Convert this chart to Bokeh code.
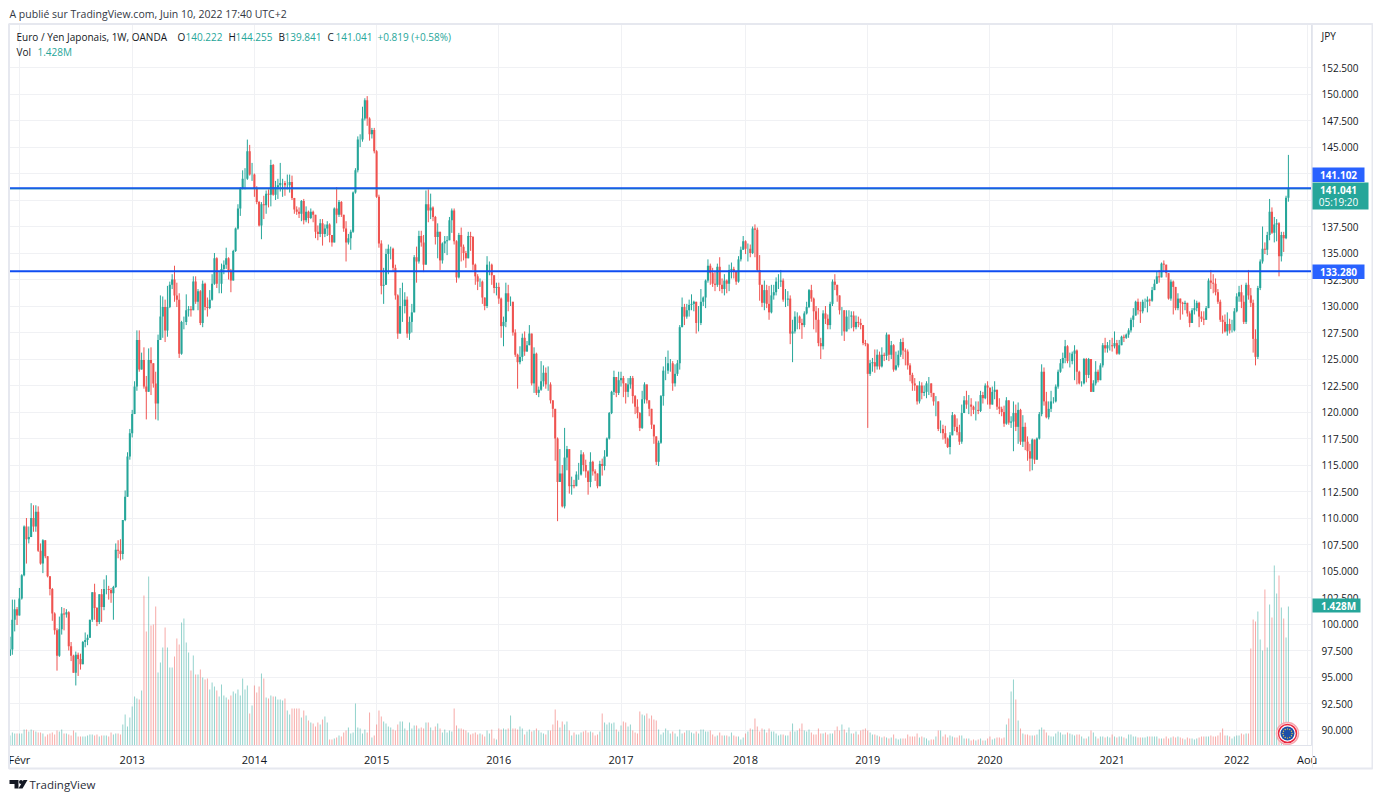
import math
from bokeh.plotting import figure
from bokeh.core.properties import value
from bokeh.models import ColumnDataSource, Range1d, FixedTicker
from bokeh.embed import file_html
from bokeh.resources import INLINE

# ---------- DATA (EUR/JPY weekly) ----------
closes = [
97.6,100.4,101.4,100.8,102.4,104.6,109.2,108.0,108.2,110.0,
109.2,110.6,106.9,105.7,107.9,106.4,104.5,103.3,101.0,99.4,
97.0,99.5,101.0,100.9,101.1,97.9,97.0,95.4,97.1,96.7,
96.2,98.3,98.5,98.7,100.4,103.0,101.5,100.2,102.8,101.6,
103.3,103.3,103.2,102.9,103.5,107.0,106.9,106.6,109.8,112.0,
115.8,118.0,119.8,122.4,126.8,124.0,124.9,122.4,121.9,124.9,
124.6,122.7,120.8,126.8,129.0,129.9,127.7,129.9,132.0,132.5,
131.0,130.6,125.5,128.5,128.5,129.6,129.7,129.6,132.3,130.4,
131.4,128.4,132.1,129.9,129.8,130.6,132.1,134.5,132.1,132.1,
133.5,133.9,134.5,133.2,132.4,135.2,137.3,139.2,141.1,142.0,
142.0,144.6,142.4,142.4,141.1,139.8,137.6,139.6,139.5,140.6,
140.5,143.3,140.5,141.2,141.4,141.6,141.6,141.4,141.4,141.7,
140.2,139.1,138.9,138.7,139.9,138.1,138.9,138.3,138.9,138.6,
137.0,136.8,137.8,136.8,137.3,137.7,136.7,136.0,139.2,138.6,
139.8,138.6,137.3,136.0,136.4,137.0,140.7,142.8,145.7,145.7,
147.7,149.4,147.7,146.2,146.6,144.6,140.3,135.9,131.9,132.0,
134.9,135.4,135.4,133.6,131.0,127.4,130.0,130.0,130.6,127.4,
128.5,129.4,134.6,134.2,136.6,136.0,133.9,139.6,139.0,139.3,
138.4,136.5,137.0,134.3,135.9,136.1,136.2,138.1,139.0,136.1,
132.7,136.7,135.6,135.0,134.5,136.6,136.5,133.9,132.8,132.3,
132.3,130.8,130.0,133.9,133.9,132.9,131.7,131.8,130.7,128.1,
128.5,131.2,130.4,130.4,127.5,125.4,124.7,125.2,127.0,125.7,
126.3,127.4,122.7,125.5,121.8,122.1,122.9,123.7,122.6,122.6,
121.1,120.3,117.5,113.4,114.2,111.1,115.7,116.5,113.0,113.1,
113.0,114.1,114.1,116.0,115.0,114.4,113.4,115.3,114.4,114.2,
113.0,115.1,114.9,115.8,117.5,119.9,121.9,123.3,121.8,123.0,
123.2,122.7,121.9,122.6,123.2,121.5,120.5,119.9,118.5,121.2,
122.6,121.1,120.3,118.8,117.7,115.3,117.1,121.5,123.9,123.9,
124.6,124.6,122.7,123.6,124.6,128.0,129.9,129.0,129.6,130.1,
130.2,130.4,128.4,128.4,130.4,130.8,132.4,133.8,133.1,132.1,
132.0,133.7,132.0,131.6,132.4,132.1,133.4,133.5,133.3,132.3,
134.4,135.3,136.1,135.4,135.4,135.0,137.3,137.2,133.4,132.0,
130.3,131.5,130.2,129.4,131.0,131.3,132.3,132.3,132.4,130.6,
130.6,130.7,127.4,127.6,129.0,129.0,128.4,128.2,129.3,129.9,
131.5,130.7,129.5,128.7,126.5,126.2,129.3,128.8,128.2,130.2,
132.3,132.0,131.0,129.6,129.6,127.6,129.0,129.0,129.1,128.0,
128.5,128.4,128.2,126.5,126.4,123.6,124.6,124.7,124.3,125.4,
124.3,125.4,125.3,127.3,125.4,126.3,124.0,124.4,125.4,126.6,
125.8,125.7,124.4,123.5,122.7,122.5,121.0,122.5,121.8,121.9,
122.7,122.7,121.8,121.0,121.0,118.4,118.4,118.0,117.5,116.7,
117.8,119.7,118.6,118.1,117.2,119.9,121.1,120.7,120.7,120.5,
120.2,120.2,120.1,121.6,121.3,122.5,122.3,120.7,121.9,122.1,
120.5,120.3,120.0,118.9,121.1,119.0,119.1,119.9,118.6,120.2,
117.2,118.6,117.2,116.3,115.6,117.4,115.5,117.5,119.8,123.8,
121.0,119.5,120.3,121.0,121.0,122.4,123.8,124.6,125.1,126.2,
124.8,124.8,125.5,125.8,123.8,122.7,122.7,125.0,123.5,125.0,
121.9,122.7,123.8,123.0,124.4,126.3,126.0,126.3,126.3,126.2,
126.5,125.5,126.3,127.1,127.0,127.3,127.7,128.7,129.1,130.4,
129.6,129.5,130.4,130.4,130.6,130.5,131.5,132.1,132.8,132.7,
134.0,133.9,133.1,130.7,132.3,131.8,129.8,130.7,130.3,130.2,
130.3,129.3,128.4,129.6,129.8,130.3,129.0,128.8,128.7,129.8,
132.4,132.2,132.1,131.3,130.4,128.7,128.5,127.6,128.3,127.7,
127.7,129.5,130.9,131.3,130.4,128.5,132.0,131.0,130.3,126.9,
125.2,131.7,134.2,135.4,135.3,136.7,138.9,136.9,137.7,137.8,
134.7,136.7,136.4,140.222,141.041]

highs = [
98.8,102.3,102.3,101.6,103.4,104.7,109.3,110.0,109.2,111.4,
111.2,111.2,111.1,107.6,108.0,107.9,106.4,104.5,103.4,101.1,
99.6,100.7,101.6,101.5,101.4,101.2,98.3,97.1,97.4,97.3,
97.2,98.4,99.2,99.0,100.4,103.0,103.8,101.6,102.8,103.3,
104.2,104.6,103.6,103.4,103.6,107.6,107.9,108.0,109.8,112.6,
116.2,118.4,120.2,122.9,127.7,127.7,125.6,126.1,123.4,126.0,
126.1,124.6,123.8,127.3,131.0,130.9,130.6,131.9,132.3,133.0,
133.8,132.2,131.2,128.6,129.0,131.1,130.0,130.0,132.8,132.8,
131.6,131.5,132.4,132.2,130.8,131.5,133.0,135.0,134.6,133.2,
134.0,134.3,135.5,134.6,133.5,135.3,137.4,139.6,141.2,142.8,
143.0,145.7,145.2,143.5,142.5,141.3,139.9,139.8,140.4,140.9,
141.0,143.8,143.4,141.8,142.0,143.5,142.0,141.8,142.4,142.4,
142.3,140.2,139.4,139.3,140.0,140.1,139.4,139.0,139.2,139.0,
138.6,137.6,138.2,138.2,137.7,138.0,137.8,136.7,139.3,141.2,
140.0,139.9,138.4,138.0,136.8,137.2,140.8,143.0,146.0,146.2,
148.8,149.6,149.8,147.8,146.8,146.8,144.7,140.5,136.2,133.6,
135.4,135.8,135.6,135.5,133.9,131.1,131.7,132.2,131.3,130.9,
129.0,130.2,134.8,135.6,137.1,137.1,136.7,140.9,141.0,140.6,
139.4,138.5,137.8,136.9,136.0,136.6,136.6,138.4,139.2,139.2,
136.2,136.9,137.4,135.8,135.2,137.0,137.0,136.6,134.0,133.0,
132.6,132.4,130.8,134.7,134.2,134.0,132.0,132.2,132.2,130.8,
129.0,132.2,132.0,130.9,129.2,127.8,125.5,126.2,127.4,127.6,
126.7,128.2,127.4,126.1,125.6,122.4,124.8,124.4,124.2,124.3,
122.8,121.0,118.0,117.6,116.5,115.0,118.5,116.8,114.6,113.9,
113.6,114.4,115.2,116.4,116.2,115.5,114.5,116.2,115.4,114.6,
113.4,115.4,115.6,116.4,117.6,120.0,122.0,123.9,123.2,123.8,
123.8,123.4,122.2,123.2,123.4,123.4,121.6,121.2,120.0,122.0,
122.8,122.2,120.5,119.2,117.9,116.0,117.3,121.6,124.3,125.2,
125.8,125.0,124.8,124.5,124.9,128.2,130.8,130.2,130.2,130.6,
131.1,130.5,130.3,130.0,131.6,130.9,132.5,134.4,134.0,133.6,
133.2,134.0,134.6,132.6,133.0,132.5,133.9,134.1,133.7,133.2,
134.7,135.6,136.6,136.2,135.9,135.8,137.5,137.7,137.4,134.8,
132.0,132.4,132.0,131.9,132.0,132.0,132.7,133.0,133.4,132.6,
131.6,131.4,131.0,128.7,129.5,129.4,129.1,128.8,129.5,130.4,
131.6,132.0,130.8,130.0,129.8,127.0,129.6,130.0,129.2,130.4,
132.5,133.0,132.0,130.9,129.9,129.0,129.6,129.6,129.5,129.5,
129.1,129.0,128.8,128.2,126.8,126.5,124.9,125.1,125.9,125.9,
125.7,126.1,125.6,127.5,127.2,126.7,126.4,125.7,125.8,126.9,
127.0,126.0,125.9,124.6,123.7,123.2,122.0,122.9,122.8,122.5,
122.9,123.3,122.4,121.8,121.5,121.0,119.2,118.8,118.7,117.6,
118.1,120.0,119.8,119.4,118.8,120.7,121.5,122.0,121.6,121.3,
120.6,121.0,121.0,122.0,121.9,122.7,122.9,122.3,122.4,122.9,
122.0,121.3,120.5,120.6,121.4,121.1,119.6,121.0,120.7,120.9,
120.3,119.7,119.0,117.7,117.0,117.5,116.2,117.6,120.0,124.5,
124.2,121.9,121.0,122.0,121.4,122.6,124.0,125.0,125.6,126.8,
126.3,125.6,125.7,126.3,125.9,123.9,122.9,125.1,125.1,125.1,
125.0,123.0,124.8,124.0,124.6,126.5,127.0,126.6,126.8,127.0,
127.6,126.8,126.8,127.2,127.3,127.4,127.9,128.9,129.8,130.5,
130.7,130.4,130.6,130.7,130.9,130.7,131.8,132.5,133.3,133.4,
134.1,134.3,133.5,132.6,132.5,132.4,131.4,131.2,130.6,130.4,
130.5,130.2,129.5,129.8,130.6,130.5,130.4,129.5,129.5,130.0,
132.6,133.4,133.0,132.6,131.6,130.6,129.1,129.2,129.4,128.8,
128.7,129.8,131.2,131.9,132.0,131.0,132.2,133.4,131.7,130.6,
127.8,131.9,134.4,137.5,136.0,137.0,140.1,139.3,138.4,138.2,
137.9,137.0,137.0,140.4,144.255]

lows = [
97.2,97.1,99.3,99.9,100.9,102.3,104.5,105.7,107.6,108.2,
108.7,108.7,106.8,105.6,104.8,106.2,104.4,102.7,100.3,99.0,
95.6,96.9,99.0,99.4,100.6,97.5,96.5,95.4,94.2,95.1,
95.7,96.2,97.8,98.0,98.7,100.2,100.4,99.8,100.0,100.2,
101.3,102.8,102.3,102.0,100.4,103.4,106.2,106.0,106.1,109.7,
112.0,115.5,117.6,119.9,122.0,123.8,124.0,122.2,119.3,122.0,
121.6,122.3,119.3,119.2,126.8,127.0,126.6,127.1,129.8,131.6,
130.4,129.9,125.1,125.4,127.8,128.2,129.0,129.0,129.6,130.2,
129.6,128.2,128.0,129.6,129.0,129.7,130.5,132.0,131.7,131.2,
131.2,133.0,133.5,132.5,131.3,132.4,135.1,137.2,138.5,141.0,
141.0,141.9,142.3,141.8,140.3,139.6,137.5,136.3,138.2,138.7,
139.3,139.4,140.4,140.0,140.1,140.8,140.3,140.4,141.0,140.7,
140.0,138.7,138.6,138.3,138.0,137.7,137.9,137.8,138.2,137.9,
136.4,136.2,136.5,135.7,136.5,136.6,136.0,135.6,136.0,137.8,
138.4,138.4,137.0,134.2,135.8,135.3,136.9,140.6,142.6,145.0,
145.5,147.5,147.0,145.6,145.8,144.4,140.2,135.5,131.1,130.2,
132.0,133.0,134.4,133.3,130.6,126.9,127.5,128.5,129.3,127.0,
126.8,127.5,129.4,132.2,134.0,135.6,133.2,133.9,137.9,138.2,
138.0,135.8,134.5,133.4,134.0,135.0,134.8,136.2,136.9,135.8,
132.2,132.6,134.2,134.3,133.6,134.6,135.2,133.4,132.0,131.5,
131.8,130.2,129.6,129.8,132.9,132.0,131.2,131.0,130.2,127.0,
126.2,128.0,129.5,130.0,127.2,125.2,122.2,124.5,124.8,125.3,
125.8,126.6,122.5,121.8,121.6,121.4,122.0,122.4,122.2,122.0,
120.8,119.5,115.4,109.7,113.4,111.0,110.9,114.5,112.3,112.2,
112.8,113.0,113.6,114.0,114.4,113.8,112.2,112.9,114.0,113.5,
112.8,113.0,114.0,114.5,115.8,117.4,119.8,121.6,121.4,121.6,
122.4,121.4,120.8,121.4,122.2,120.8,119.8,119.4,118.2,118.4,
120.8,120.8,119.6,118.4,117.0,115.0,114.9,117.0,120.6,123.0,
123.6,123.8,122.0,122.4,123.4,124.0,128.0,128.2,128.8,129.0,
129.6,129.5,127.4,127.6,128.2,130.0,129.8,132.2,132.0,131.8,
131.4,131.8,131.4,131.2,131.0,131.2,131.4,132.6,132.6,132.0,
132.2,134.2,135.4,134.9,134.2,134.6,134.9,134.6,133.2,130.5,
129.9,129.6,129.8,128.7,129.3,130.6,131.0,131.6,131.8,130.4,
129.9,130.0,126.4,124.7,127.4,127.8,127.8,126.9,128.0,129.2,
129.8,130.4,127.8,127.5,126.2,125.0,125.9,128.3,127.8,127.8,
130.0,131.5,130.4,129.2,127.2,126.7,128.2,127.8,127.9,127.6,
127.8,128.0,127.8,126.3,126.2,118.5,123.4,123.8,123.7,124.0,
124.0,124.2,124.8,124.9,124.8,125.0,123.8,123.9,124.2,125.2,
125.0,124.4,124.0,122.9,122.0,122.0,120.7,120.8,121.2,121.5,
121.3,121.6,121.4,120.6,119.6,118.2,118.0,117.4,117.0,116.6,
116.0,117.8,118.2,117.8,116.9,117.0,119.9,120.3,119.8,119.6,
119.8,119.2,119.8,120.0,120.8,121.2,120.7,120.3,120.8,121.2,
120.2,119.8,119.6,118.6,118.8,118.8,118.5,116.3,118.2,117.0,
116.9,116.7,116.4,115.4,114.4,114.5,115.1,115.6,117.4,119.6,
120.6,119.4,119.3,120.0,120.8,120.9,122.2,123.7,124.1,124.6,
124.6,124.2,124.5,123.0,122.6,122.6,122.4,122.6,122.8,123.2,
122.0,121.9,122.5,122.8,123.0,124.2,125.6,125.6,125.8,125.7,
126.0,125.4,125.4,126.6,126.6,126.9,127.0,127.5,128.0,129.2,
129.2,128.4,129.3,129.8,129.4,130.0,130.4,131.5,132.3,132.2,
132.7,133.2,132.7,130.6,130.5,129.2,129.6,129.6,128.7,129.2,
129.6,129.0,128.0,128.4,129.2,129.5,128.0,128.5,128.2,128.7,
129.8,131.6,131.2,131.0,130.2,128.5,127.4,127.5,127.2,127.4,
127.5,127.6,129.4,130.4,129.8,128.3,128.3,130.6,129.9,125.6,
124.4,125.0,131.5,134.0,134.9,134.8,136.2,136.8,136.0,136.1,
132.8,134.2,135.1,136.3,139.841]

# volumes, in tens of thousands of lots
volumes = [
10,13,12,12,12,12,16,16,14,16,15,14,13,13,12,9,11,12,13,11,
15,14,16,12,12,11,10,15,13,9,9,9,9,10,11,11,10,11,9,
10,10,10,9,13,11,12,12,11,21,
31,19,28,39,49,47,46,55,150,114,
169,120,121,139,73,83,98,118,98,78,
78,89,107,101,123,127,103,93,75,90,
71,71,76,68,66,67,56,63,59,55,
49,61,50,48,46,50,54,52,56,50,
67,56,60,32,40,60,53,59,72,67,
48,47,50,49,49,46,46,45,47,35,
31,37,37,37,37,28,35,30,25,23,
22,19,23,21,26,29,23,6,6,7,
8,10,9,13,15,18,12,13,42,18,
17,12,16,13,33,8,10,21,35,29,
24,22,19,18,16,15,21,24,
24,17,15,23,17,20,20,17,18,17,
23,23,18,15,19,22,17,13,16,13,
15,14,37,20,17,17,16,15,13,11,
12,13,11,12,11,9,15,12,16,7,
6,17,16,17,16,17,30,17,17,16,
19,17,11,14,16,14,15,17,15,13,
12,11,15,15,21,36,25,18,24,21,
24,15,10,13,11,11,13,14,15,13,
14,13,10,11,14,32,23,21,23,22,
23,16,14,20,24,23,19,21,15,13,
12,34,31,30,32,27,30,26,25,16,
11,13,17,15,12,14,12,9,16,12,
13,15,15,13,12,
14,12,16,16,14,14,15,11,9,10,
13,10,10,10,9,13,10,9,9,6,
8,12,14,17,16,27,19,14,17,16,
13,17,14,14,12,10,11,11,10,10,
14,22,14,15,17,22,15,14,16,13,
11,11,17,12,12,13,11,12,12,15,
19,15,21,16,13,18,12,12,14,11,
15,16,17,15,13,11,11,10,9,8,
9,8,7,8,11,7,6,7,7,7,
11,9,9,9,12,8,9,8,7,5,
6,6,9,15,15,9,11,8,10,9,
8,8,10,10,7,7,7,5,6,5,
6,7,5,5,7,9,
6,7,8,8,7,8,21,27,54,66,
46,25,17,12,11,11,10,10,10,11,
16,18,16,13,10,9,9,12,14,13,
11,11,13,12,11,10,11,11,9,7,
7,9,15,13,9,7,9,9,8,9,
8,11,9,8,9,9,8,7,11,11,
9,9,8,8,8,8,9,9,9,9,
9,7,7,7,9,7,8,9,8,9,
8,7,6,8,7,7,6,7,8,9,
9,9,9,10,9,9,10,13,17,10,
10,9,7,9,10,10,12,11,12,
12,97,126,124,134,106,95,156,98,141,128,180,152,170,138,127,108,139]

first_open = 97.0
price_ticks = [90+2.5*k for k in range(26)]
time_tick_weeks = [4,52,104,156,208,260,313,365,417,469,522,552]
time_tick_labels = ["Févr","2013","2014","2015","2016","2017","2018","2019","2020","2021","2022","Aoû"]
level_upper = 141.102
level_lower = 133.280
last_close = 141.041
last_volume_text = "1.428M"

assert len(closes) == 545 and len(highs) == 545 and len(lows) == 545 and len(volumes) == 545

# ---------- LAYOUT ----------
W, H = 1373, 792
PX0, PX1, PY0, PY1 = 9, 1311, 24, 745      # frame in page pixels
STEP = 2.35
def dx(px): return (px - 9.5) / STEP         # page px -> week index
def dy(py): return 150 - (py - 93.5) / 10.6  # page py -> price

UP, DOWN = "#26a69a", "#ef5350"
BLUE = "#2962ff"
FONT = "Open Sans"
GRID = "#f0f1f4"

p = figure(width=W, height=H, output_backend="svg", toolbar_location=None,
           x_range=Range1d(dx(PX0), dx(PX1)), y_range=Range1d(dy(PY1), dy(PY0)),
           y_axis_location="right", min_border_left=PX0, min_border_right=W-PX1,
           min_border_top=PY0, min_border_bottom=H-PY1, outline_line_color=None,
           background_fill_color="white")

opens = [first_open] + closes[:-1]
idx = list(range(len(closes)))
colors = [UP if c >= o else DOWN for o, c in zip(opens, closes)]
src = ColumnDataSource(dict(
    x=idx, open=opens, close=closes,
    high=[max(h, o, c) for h, o, c in zip(highs, opens, closes)],
    low=[min(l, o, c) for l, o, c in zip(lows, opens, closes)],
    top=[max(o, c) for o, c in zip(opens, closes)],
    bot=[min(o, c) for o, c in zip(opens, closes)],
    color=colors, vol=volumes))

# volume pane shares the frame
p.extra_y_ranges = {"vol": Range1d(0, PY1 - PY0)}
p.vbar(x="x", top="vol", bottom=0, width=0.42, color="color", alpha=0.5,
       line_color=None, y_range_name="vol", source=src)
p.segment(x0="x", x1="x", y0="low", y1="high", color="color", line_width=1, source=src)
p.vbar(x="x", top="top", bottom="bot", width=0.88, fill_color="color", line_color=None, source=src)

# levels
for lv in (level_upper, level_lower):
    p.line([dx(PX0), dx(PX1)], [lv, lv], line_color="#0f4df2", line_width=2)
p.line([dx(PX0), dx(PX1)], [last_close, last_close], line_color=UP, line_width=1, line_dash=[1, 1])

# EU flag marker
p.scatter([dx(1287)], [dy(733)], size=22, marker="circle", fill_color="white",
          line_color="#f7a8b0", line_width=1.5)
p.scatter([dx(1287)], [dy(733)], size=18, marker="circle", fill_color="white",
          line_color="#e8273f", line_width=1.5)
p.scatter([dx(1287)], [dy(733)], size=14, marker="circle", fill_color="#1c4fa8", line_color=None)
star_x = [dx(1287 + 4.6 * math.cos(k * math.pi / 6)) for k in range(12)]
star_y = [dy(733 + 4.6 * math.sin(k * math.pi / 6)) for k in range(12)]
p.scatter(star_x, star_y, size=1.4, marker="circle", fill_color="#e6c84a", line_color=None)

# axes & grid
xa, ya = p.xaxis[0], p.yaxis[0]
xa.ticker = FixedTicker(ticks=time_tick_weeks)
xa.major_label_overrides = {t: s for t, s in zip(time_tick_weeks, time_tick_labels)}
ya.ticker = FixedTicker(ticks=price_ticks)
ya.major_label_overrides = {t: f"{t:.3f}" for t in price_ticks}
for a in (xa, ya):
    a.major_tick_line_color = None
    a.minor_tick_line_color = None
    a.major_tick_out = 0
    a.major_tick_in = 0
    a.axis_line_color = "#e0e3eb"
    a.axis_line_width = 1
    a.major_label_text_font = FONT
    a.major_label_text_font_size = "10px"
    a.major_label_text_color = "#131722"
ya.major_label_standoff = 10
xa.major_label_standoff = 6
xa.major_label_text_font_size = "11px"
p.xgrid.ticker = FixedTicker(ticks=time_tick_weeks)
p.ygrid.ticker = FixedTicker(ticks=price_ticks)
p.xgrid.grid_line_color = GRID
p.ygrid.grid_line_color = GRID

# ---------- OVERLAY: a transparent figure in page-pixel coordinates for chrome ----------
q = figure(width=W, height=H, output_backend="svg", toolbar_location=None,
           x_range=Range1d(0, W), y_range=Range1d(H, 0), x_axis_type=None, y_axis_type=None,
           min_border=0, min_border_left=0, min_border_right=0, min_border_top=0, min_border_bottom=0,
           outline_line_color=None, background_fill_color=None, border_fill_color=None,
           styles={"position": "absolute", "left": "0px", "top": "0px"})
q.grid.visible = False

# outer frame and separators
q.quad(left=[8.5], right=[1372], top=[23.5], bottom=[768], fill_color=None,
       line_color="#e6e8ef", line_width=2)
q.segment([1312], [24], [1312], [768], line_color="#e6e8ef", line_width=1)

def text(px, py, s, color="#131722", size="10px", align="left", weight="normal"):
    q.text([px], [py], text=[s], text_color=color, text_font=value(FONT), text_font_size=size,
           text_align=align, text_baseline="middle", text_font_style=weight)

def tag(x0, x1, y0, y1, color):
    q.quad(left=[x0], right=[x1], top=[y0], bottom=[y1], fill_color=color, line_color=None)

# header texts
text(9, 13, "A publié sur TradingView.com, Juin 10, 2022 17:40 UTC+2", color="#333844", size="10.5px")
text(16, 36, "Euro / Yen Japonais, 1W, OANDA")
for lx, letter, vx, val in [(177, "O", 185, "140.222"), (228, "H", 235, "144.255"),
                            (278, "B", 284, "139.841"), (327, "C", 335, "141.041")]:
    text(lx, 36, letter)
    text(vx, 36, val, color=UP)
text(377, 36, "+0.819 (+0.58%)", color=UP)
text(16, 51, "Vol")
text(37, 51, last_volume_text, color=UP)
text(1321, 35, "JPY")

# price tags
tag(1312, 1364, 167, 181.5, BLUE)
text(1338, 174, f"{level_upper:.3f}", color="white", align="center", weight="bold")
tag(1312, 1368, 182, 209, UP)
text(1338, 189, f"{last_close:.3f}", color="white", align="center", weight="bold")
text(1338, 201, "05:19:20", color="white", align="center")
tag(1312, 1364, 264, 278.5, BLUE)
text(1338, 271, f"{level_lower:.3f}", color="white", align="center", weight="bold")
tag(1312, 1360, 598, 612, UP)
text(1338, 605, last_volume_text, color="white", align="center", weight="bold")

# TradingView logo + wordmark
logo = "#131722"
q.patch([9, 18, 18, 14, 14, 9], [779.5, 779.5, 788, 788, 783.5, 783.5], fill_color=logo, line_color=None)
q.patch([22, 27, 23, 18], [788, 779.5, 779.5, 788], fill_color=logo, line_color=None)
q.scatter([20.5], [781.5], size=4, marker="circle", fill_color=logo, line_color=None)
text(29, 784, "TradingView", color="#2a2e39", size="11.5px")

open("out.html", "w").write(file_html([p, q], INLINE))
